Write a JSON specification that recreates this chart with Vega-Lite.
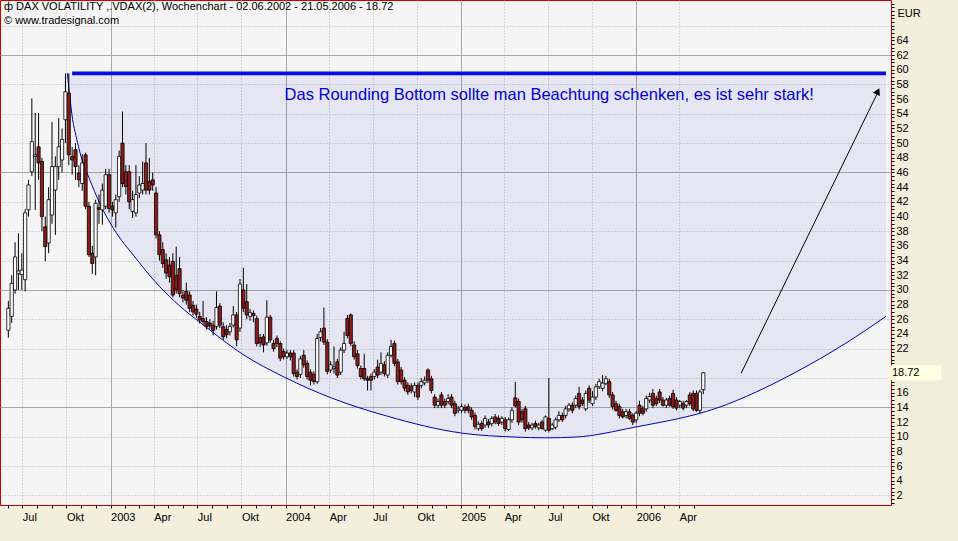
{
"$schema": "https://vega.github.io/schema/vega-lite/v6.json",
"width": 891, "height": 505,
"autosize": {"type": "none"},
"padding": {"left": 0, "top": 0, "right": 67, "bottom": 36},
"background": "#F3EFDC",
"config": {
 "view": {"fill": "#F5F5F5", "stroke": "#CC0000", "strokeWidth": 1},
 "axis": {"title": null, "domain": false, "grid": false, "labelFont": "Liberation Sans", "labelFontSize": 11, "labelColor": "#000000", "tickColor": "#000000"}
},
"title": {"text": "ф DAX VOLATILITY ,.VDAX(2), Wochenchart - 02.06.2002 - 21.05.2006 - 18.72", "subtitle": "© www.tradesignal.com", "anchor": "start", "frame": "group", "orient": "top", "offset": -28, "dx": 4, "font": "Liberation Sans", "fontSize": 11, "fontWeight": "normal", "color": "#000000", "subtitleFont": "Liberation Sans", "subtitleFontSize": 11, "subtitleColor": "#000000", "subtitlePadding": 3},
"datasets": {
 "candles": [
{"d":"2002-06-02","o":24.5,"h":28.5,"l":23.5,"c":27.5},
{"d":"2002-06-09","o":26.4,"h":32,"l":25.5,"c":30.9},
{"d":"2002-06-16","o":30,"h":36.5,"l":29.5,"c":34.5},
{"d":"2002-06-23","o":32.2,"h":37.7,"l":30,"c":32.6},
{"d":"2002-06-30","o":32.1,"h":35,"l":30,"c":32.7},
{"d":"2002-07-07","o":31.4,"h":41,"l":29.8,"c":40.5},
{"d":"2002-07-14","o":40.9,"h":45,"l":40,"c":44.3},
{"d":"2002-07-21","o":46.1,"h":56.1,"l":45.5,"c":50.2},
{"d":"2002-07-28","o":48.2,"h":54.1,"l":40.9,"c":48.4},
{"d":"2002-08-04","o":49.5,"h":54.1,"l":45,"c":47.3},
{"d":"2002-08-11","o":47.5,"h":48,"l":38,"c":40},
{"d":"2002-08-18","o":38.6,"h":40,"l":33.9,"c":35.9},
{"d":"2002-08-25","o":36.4,"h":44,"l":35,"c":42.3},
{"d":"2002-09-01","o":40.2,"h":52.9,"l":39,"c":46.8},
{"d":"2002-09-08","o":43.6,"h":48.2,"l":37.5,"c":46.8},
{"d":"2002-09-15","o":46.8,"h":53.4,"l":45,"c":49.5},
{"d":"2002-09-22","o":47.7,"h":52,"l":46,"c":50.5},
{"d":"2002-09-29","o":53.2,"h":59.5,"l":50,"c":57},
{"d":"2002-10-06","o":56.8,"h":59.5,"l":47,"c":48.4},
{"d":"2002-10-13","o":48.2,"h":49.5,"l":45.7,"c":47.7},
{"d":"2002-10-20","o":49.1,"h":50,"l":45,"c":46.8},
{"d":"2002-10-27","o":45.9,"h":47,"l":44,"c":45},
{"d":"2002-11-03","o":44.5,"h":48.5,"l":43.5,"c":47.3},
{"d":"2002-11-10","o":48.4,"h":48.7,"l":41,"c":41.4},
{"d":"2002-11-17","o":41.4,"h":42,"l":34.5,"c":34.8},
{"d":"2002-11-24","o":35,"h":36,"l":32.2,"c":33.6},
{"d":"2002-12-01","o":34.5,"h":42.3,"l":32,"c":41.8},
{"d":"2002-12-08","o":41.2,"h":43,"l":39,"c":41},
{"d":"2002-12-15","o":40.9,"h":44.5,"l":38.9,"c":43.6},
{"d":"2002-12-22","o":41.4,"h":46.5,"l":41,"c":45.7},
{"d":"2002-12-29","o":45.7,"h":46.5,"l":40.5,"c":41.1},
{"d":"2003-01-05","o":41.4,"h":42,"l":40,"c":40.9},
{"d":"2003-01-12","o":40.5,"h":43,"l":38.5,"c":42.3},
{"d":"2003-01-19","o":42.7,"h":49,"l":42,"c":48.2},
{"d":"2003-01-26","o":50,"h":54.3,"l":44,"c":44.5},
{"d":"2003-02-02","o":46.1,"h":47,"l":43,"c":44.1},
{"d":"2003-02-09","o":46.1,"h":47,"l":41,"c":42},
{"d":"2003-02-16","o":40.7,"h":43.5,"l":39.8,"c":42.3},
{"d":"2003-02-23","o":40.5,"h":47,"l":40,"c":43},
{"d":"2003-03-02","o":43.2,"h":45.5,"l":42.5,"c":44.3},
{"d":"2003-03-09","o":43.6,"h":47.5,"l":43,"c":44.5},
{"d":"2003-03-16","o":47.3,"h":50,"l":43,"c":43.6},
{"d":"2003-03-23","o":44.8,"h":48,"l":43,"c":43.6},
{"d":"2003-03-30","o":45,"h":46,"l":43.5,"c":44.3},
{"d":"2003-04-06","o":43.2,"h":44,"l":37,"c":37.5},
{"d":"2003-04-13","o":37.5,"h":38,"l":34,"c":34.8},
{"d":"2003-04-20","o":35.5,"h":36.5,"l":33,"c":33.6},
{"d":"2003-04-27","o":34.1,"h":35,"l":31.5,"c":32.3},
{"d":"2003-05-04","o":33.4,"h":34.5,"l":31,"c":31.8},
{"d":"2003-05-11","o":33.9,"h":35,"l":29,"c":29.3},
{"d":"2003-05-18","o":32,"h":35.9,"l":29.5,"c":30},
{"d":"2003-05-25","o":32.9,"h":34.5,"l":29,"c":29.5},
{"d":"2003-06-01","o":29.3,"h":30,"l":28.3,"c":28.9},
{"d":"2003-06-08","o":29.8,"h":31,"l":28,"c":28.6},
{"d":"2003-06-15","o":29.3,"h":29.8,"l":27,"c":27.5},
{"d":"2003-06-22","o":27.9,"h":28.5,"l":26.5,"c":27},
{"d":"2003-06-29","o":27.4,"h":28,"l":26.2,"c":26.7},
{"d":"2003-07-06","o":26.4,"h":27,"l":25.4,"c":25.9},
{"d":"2003-07-13","o":26.1,"h":28.5,"l":25.2,"c":25.7},
{"d":"2003-07-20","o":25.7,"h":26.3,"l":24.6,"c":25},
{"d":"2003-07-27","o":25.5,"h":26,"l":24.7,"c":25.1},
{"d":"2003-08-03","o":25.2,"h":25.8,"l":23.8,"c":24.5},
{"d":"2003-08-10","o":25,"h":29.8,"l":24.6,"c":27.6},
{"d":"2003-08-17","o":27.8,"h":28.2,"l":24.8,"c":25.2},
{"d":"2003-08-24","o":25,"h":25.6,"l":23.2,"c":23.6},
{"d":"2003-08-31","o":24.6,"h":25.2,"l":23.4,"c":23.9},
{"d":"2003-09-07","o":24.3,"h":25.5,"l":23.8,"c":25},
{"d":"2003-09-14","o":25.2,"h":27.8,"l":24.9,"c":26.6},
{"d":"2003-09-21","o":26.6,"h":27,"l":22.3,"c":23.2},
{"d":"2003-09-28","o":24.8,"h":31.5,"l":24.3,"c":30.8},
{"d":"2003-10-05","o":30,"h":33,"l":27,"c":27.5},
{"d":"2003-10-12","o":28.4,"h":30.8,"l":26,"c":26.6},
{"d":"2003-10-19","o":26.4,"h":27.4,"l":25.8,"c":26.9},
{"d":"2003-10-26","o":26.8,"h":27.2,"l":25.6,"c":26.5},
{"d":"2003-11-02","o":26.1,"h":26.5,"l":22.3,"c":22.7},
{"d":"2003-11-09","o":23.5,"h":24,"l":22.2,"c":22.8},
{"d":"2003-11-16","o":23.6,"h":24,"l":21.5,"c":22.5},
{"d":"2003-11-23","o":22.8,"h":28.6,"l":22.4,"c":26.3},
{"d":"2003-11-30","o":26.3,"h":26.6,"l":22.8,"c":23.2},
{"d":"2003-12-07","o":22.7,"h":23.2,"l":21.6,"c":22},
{"d":"2003-12-14","o":23.4,"h":23.8,"l":22.2,"c":22.7},
{"d":"2003-12-21","o":22.7,"h":23,"l":20.3,"c":20.7},
{"d":"2003-12-28","o":21.6,"h":22,"l":20.5,"c":20.9},
{"d":"2004-01-04","o":20.9,"h":21.8,"l":20.6,"c":21.4},
{"d":"2004-01-11","o":21.4,"h":21.8,"l":20.4,"c":20.9},
{"d":"2004-01-18","o":21.4,"h":21.8,"l":18.2,"c":18.6},
{"d":"2004-01-25","o":18.8,"h":19.2,"l":17.8,"c":18.2},
{"d":"2004-02-01","o":18.5,"h":21,"l":18,"c":20.6},
{"d":"2004-02-08","o":21.1,"h":21.8,"l":19.4,"c":19.8},
{"d":"2004-02-15","o":20,"h":20.4,"l":17.8,"c":18.2},
{"d":"2004-02-22","o":18.8,"h":19.2,"l":17,"c":17.7},
{"d":"2004-02-29","o":18.5,"h":18.9,"l":17.1,"c":17.5},
{"d":"2004-03-07","o":17.5,"h":24,"l":17.2,"c":23.4},
{"d":"2004-03-14","o":23.5,"h":24.8,"l":23,"c":24.3},
{"d":"2004-03-21","o":24.8,"h":27.6,"l":22.5,"c":22.9},
{"d":"2004-03-28","o":22.9,"h":23.3,"l":18.5,"c":18.9},
{"d":"2004-04-04","o":19.1,"h":20.3,"l":18.7,"c":19.8},
{"d":"2004-04-11","o":19.3,"h":22.3,"l":18.6,"c":19.5},
{"d":"2004-04-18","o":20.2,"h":20.6,"l":18,"c":18.4},
{"d":"2004-04-25","o":18.8,"h":22.2,"l":18.4,"c":21.8},
{"d":"2004-05-02","o":21.8,"h":24.3,"l":21.4,"c":22.7},
{"d":"2004-05-09","o":26.1,"h":26.6,"l":23.4,"c":23.8},
{"d":"2004-05-16","o":26.6,"h":26.8,"l":22.3,"c":22.7},
{"d":"2004-05-23","o":22.5,"h":23,"l":20.5,"c":20.9},
{"d":"2004-05-30","o":21.3,"h":21.8,"l":19.3,"c":19.7},
{"d":"2004-06-06","o":19.3,"h":19.7,"l":17.8,"c":18.2},
{"d":"2004-06-13","o":19.3,"h":21.3,"l":17.6,"c":17.9},
{"d":"2004-06-20","o":17.9,"h":18.3,"l":16.3,"c":17.7},
{"d":"2004-06-27","o":18.2,"h":18.6,"l":16.3,"c":17.7},
{"d":"2004-07-04","o":18.2,"h":19.2,"l":17.8,"c":18.8},
{"d":"2004-07-11","o":19.5,"h":20.5,"l":18,"c":18.4},
{"d":"2004-07-18","o":18.8,"h":21.5,"l":18.4,"c":20},
{"d":"2004-07-25","o":19.8,"h":20.3,"l":18.2,"c":18.6},
{"d":"2004-08-01","o":18.4,"h":21.5,"l":18,"c":21.1},
{"d":"2004-08-08","o":21.1,"h":23.2,"l":20.8,"c":22.3},
{"d":"2004-08-15","o":22.7,"h":23.1,"l":19.6,"c":20},
{"d":"2004-08-22","o":20.2,"h":20.6,"l":17.1,"c":17.5},
{"d":"2004-08-29","o":19.1,"h":19.5,"l":17.1,"c":17.5},
{"d":"2004-09-05","o":17.7,"h":18.1,"l":16.2,"c":16.6},
{"d":"2004-09-12","o":17,"h":17.4,"l":15.7,"c":16.1},
{"d":"2004-09-19","o":16.9,"h":17.3,"l":15.9,"c":16.3},
{"d":"2004-09-26","o":16.1,"h":17.4,"l":15.4,"c":17},
{"d":"2004-10-03","o":17,"h":17.4,"l":15,"c":15.4},
{"d":"2004-10-10","o":17,"h":18,"l":16.6,"c":17.5},
{"d":"2004-10-17","o":17.35,"h":18.2,"l":17,"c":17.7},
{"d":"2004-10-24","o":19.1,"h":19.3,"l":17.3,"c":17.7},
{"d":"2004-10-31","o":17.9,"h":18.3,"l":15.9,"c":16.3},
{"d":"2004-11-07","o":15.4,"h":15.8,"l":13.9,"c":14.3},
{"d":"2004-11-14","o":14.3,"h":15.2,"l":13.9,"c":14.8},
{"d":"2004-11-21","o":15.7,"h":16.1,"l":13.9,"c":14.3},
{"d":"2004-11-28","o":14.8,"h":15.2,"l":13.9,"c":14.3},
{"d":"2004-12-05","o":14.8,"h":15.8,"l":14.4,"c":15.2},
{"d":"2004-12-12","o":15.4,"h":15.8,"l":13.9,"c":14.3},
{"d":"2004-12-19","o":14.5,"h":14.9,"l":12.8,"c":13.2},
{"d":"2004-12-26","o":13.6,"h":14.2,"l":13.2,"c":13.8},
{"d":"2005-01-02","o":13.6,"h":14.5,"l":13.2,"c":14.1},
{"d":"2005-01-09","o":14,"h":14.4,"l":13.2,"c":13.6},
{"d":"2005-01-16","o":14.1,"h":14.5,"l":13.2,"c":13.6},
{"d":"2005-01-23","o":13.6,"h":14,"l":12.3,"c":12.7},
{"d":"2005-01-30","o":12.9,"h":13.3,"l":11,"c":11.4},
{"d":"2005-02-06","o":11.1,"h":12.1,"l":10.8,"c":11.7},
{"d":"2005-02-13","o":11.8,"h":12.2,"l":10.8,"c":11.1},
{"d":"2005-02-20","o":11.6,"h":12.9,"l":11.2,"c":12.5},
{"d":"2005-02-27","o":12,"h":12.4,"l":11.2,"c":11.6},
{"d":"2005-03-06","o":11.8,"h":12.8,"l":11.4,"c":12.5},
{"d":"2005-03-13","o":12.7,"h":13.1,"l":11.7,"c":12},
{"d":"2005-03-20","o":12.5,"h":12.9,"l":11.5,"c":11.8},
{"d":"2005-03-27","o":12,"h":12.8,"l":11.6,"c":12.5},
{"d":"2005-04-03","o":12.3,"h":12.7,"l":10.7,"c":11.1},
{"d":"2005-04-10","o":11,"h":12.6,"l":10.8,"c":12.3},
{"d":"2005-04-17","o":12.3,"h":14,"l":11.9,"c":13.6},
{"d":"2005-04-24","o":15.3,"h":17.5,"l":14,"c":14.2},
{"d":"2005-05-01","o":14.8,"h":15.2,"l":11.6,"c":12},
{"d":"2005-05-08","o":13.4,"h":13.8,"l":11.9,"c":12.3},
{"d":"2005-05-15","o":13.8,"h":14.2,"l":10.7,"c":11.1},
{"d":"2005-05-22","o":11.6,"h":12,"l":10.9,"c":11.2},
{"d":"2005-05-29","o":11.2,"h":11.9,"l":10.9,"c":11.6},
{"d":"2005-06-05","o":11.8,"h":12.2,"l":11.1,"c":11.4},
{"d":"2005-06-12","o":11.2,"h":11.9,"l":10.9,"c":11.6},
{"d":"2005-06-19","o":12,"h":12.3,"l":11,"c":11.1},
{"d":"2005-06-26","o":10.9,"h":12.9,"l":10.7,"c":12.7},
{"d":"2005-07-03","o":12.5,"h":18,"l":10.6,"c":10.9},
{"d":"2005-07-10","o":11.1,"h":11.9,"l":10.9,"c":11.6},
{"d":"2005-07-17","o":11.3,"h":12.6,"l":11,"c":12.3},
{"d":"2005-07-24","o":12.3,"h":13.5,"l":12,"c":12.9},
{"d":"2005-07-31","o":12.9,"h":13.3,"l":12,"c":12.3},
{"d":"2005-08-07","o":12.9,"h":14.2,"l":12.5,"c":13.8},
{"d":"2005-08-14","o":13.8,"h":14.6,"l":13.4,"c":14.3},
{"d":"2005-08-21","o":14.3,"h":14.7,"l":13.2,"c":13.6},
{"d":"2005-08-28","o":14.3,"h":15.6,"l":13.9,"c":15.2},
{"d":"2005-09-04","o":15.9,"h":16.8,"l":13.7,"c":14.1},
{"d":"2005-09-11","o":15,"h":15.4,"l":14.2,"c":14.5},
{"d":"2005-09-18","o":13.8,"h":16.3,"l":13.5,"c":15.9},
{"d":"2005-09-25","o":16.6,"h":17,"l":14.6,"c":15},
{"d":"2005-10-02","o":14.5,"h":16.2,"l":14.2,"c":15.4},
{"d":"2005-10-09","o":15.4,"h":17.2,"l":15,"c":16.8},
{"d":"2005-10-16","o":16.8,"h":17.9,"l":16.5,"c":17.5},
{"d":"2005-10-23","o":16.6,"h":18.4,"l":16.2,"c":17.3},
{"d":"2005-10-30","o":17.3,"h":18.3,"l":17,"c":17.9},
{"d":"2005-11-06","o":17.5,"h":17.9,"l":15.3,"c":15.7},
{"d":"2005-11-13","o":15.7,"h":16.1,"l":13.7,"c":14.1},
{"d":"2005-11-20","o":14.5,"h":14.9,"l":13.4,"c":13.6},
{"d":"2005-11-27","o":14.1,"h":14.5,"l":12.5,"c":12.9},
{"d":"2005-12-04","o":13.4,"h":13.8,"l":12.5,"c":12.7},
{"d":"2005-12-11","o":12.9,"h":13.8,"l":12.5,"c":13.4},
{"d":"2005-12-18","o":13.4,"h":13.8,"l":12.3,"c":12.5},
{"d":"2005-12-25","o":12.9,"h":13.2,"l":11.6,"c":12},
{"d":"2006-01-01","o":12.3,"h":13.5,"l":11.9,"c":13.2},
{"d":"2006-01-08","o":14.3,"h":14.9,"l":12.8,"c":13.2},
{"d":"2006-01-15","o":13.8,"h":14.2,"l":12.9,"c":13.2},
{"d":"2006-01-22","o":13.8,"h":15.6,"l":13.4,"c":15.2},
{"d":"2006-01-29","o":15,"h":16,"l":14.6,"c":15.5},
{"d":"2006-02-05","o":15.9,"h":16.5,"l":13.9,"c":14.3},
{"d":"2006-02-12","o":15.2,"h":15.6,"l":14.2,"c":14.5},
{"d":"2006-02-19","o":16.1,"h":16.5,"l":14.6,"c":15},
{"d":"2006-02-26","o":15,"h":15.4,"l":14.1,"c":14.3},
{"d":"2006-03-05","o":14.3,"h":15.3,"l":13.9,"c":15},
{"d":"2006-03-12","o":15.2,"h":15.6,"l":14.1,"c":14.3},
{"d":"2006-03-19","o":15.9,"h":16.4,"l":13.8,"c":14.1},
{"d":"2006-03-26","o":15,"h":15.4,"l":13.6,"c":13.9},
{"d":"2006-04-02","o":14.3,"h":15,"l":13.9,"c":14.8},
{"d":"2006-04-09","o":14.5,"h":14.9,"l":13.6,"c":13.9},
{"d":"2006-04-16","o":14.3,"h":15,"l":13.9,"c":14.8},
{"d":"2006-04-23","o":15.7,"h":16.1,"l":14.2,"c":14.5},
{"d":"2006-04-30","o":15.9,"h":16.3,"l":13.5,"c":13.8},
{"d":"2006-05-07","o":15.9,"h":16.3,"l":13.4,"c":13.6},
{"d":"2006-05-14","o":13.6,"h":16.4,"l":13.2,"c":16.1},
{"d":"2006-05-21","o":16.4,"h":18.8,"l":15.8,"c":18.72}
 ],
 "curve": [
{"d":"2002-10-03","v":59.5},
{"d":"2002-10-07","v":57.0},
{"d":"2002-10-14","v":53.2},
{"d":"2002-10-21","v":51.0},
{"d":"2002-10-31","v":48.3},
{"d":"2002-11-17","v":45.3},
{"d":"2002-12-11","v":41.6},
{"d":"2003-01-07","v":38.4},
{"d":"2003-02-23","v":34.3},
{"d":"2003-03-30","v":31.5},
{"d":"2003-05-04","v":29.1},
{"d":"2003-07-26","v":24.6},
{"d":"2003-10-02","v":21.3},
{"d":"2003-12-30","v":18.1},
{"d":"2004-04-05","v":15.3},
{"d":"2004-07-31","v":12.8},
{"d":"2005-01-02","v":10.5},
{"d":"2005-04-25","v":9.95},
{"d":"2005-06-26","v":9.85},
{"d":"2005-08-27","v":9.95},
{"d":"2005-12-29","v":11.3},
{"d":"2006-06-18","v":13.9},
{"d":"2006-11-30","v":18.8},
{"d":"2007-03-13","v":22.7},
{"d":"2007-06-06","v":26.4}
 ],
 "marker": [{"d1": "2007-06-10", "d2": "2007-09-29", "v1": 17.7, "v2": 19.75, "v": 18.72, "t": "18.72"}]
},
"layer": [
 {
  "data": {"name": "curve"},
  "mark": {"type": "area", "interpolate": "monotone", "fill": "#0000E0", "fillOpacity": 0.06, "clip": true},
  "encoding": {
   "x": {"field": "d", "type": "temporal",
    "scale": {"type": "utc", "domain": [{"year": 2002, "month": 5, "date": 26, "utc": true}, {"year": 2007, "month": 6, "date": 6, "utc": true}]},
    "axis": {"orient": "bottom", "values": [
      {"year": 2002, "month": 6, "date": 1, "utc": true}, {"year": 2002, "month": 7, "date": 1, "utc": true}, {"year": 2002, "month": 8, "date": 1, "utc": true}, {"year": 2002, "month": 9, "date": 1, "utc": true}, {"year": 2002, "month": 10, "date": 1, "utc": true}, {"year": 2002, "month": 11, "date": 1, "utc": true}, {"year": 2002, "month": 12, "date": 1, "utc": true},
      {"year": 2003, "month": 1, "date": 1, "utc": true}, {"year": 2003, "month": 2, "date": 1, "utc": true}, {"year": 2003, "month": 3, "date": 1, "utc": true}, {"year": 2003, "month": 4, "date": 1, "utc": true}, {"year": 2003, "month": 5, "date": 1, "utc": true}, {"year": 2003, "month": 6, "date": 1, "utc": true}, {"year": 2003, "month": 7, "date": 1, "utc": true}, {"year": 2003, "month": 8, "date": 1, "utc": true}, {"year": 2003, "month": 9, "date": 1, "utc": true}, {"year": 2003, "month": 10, "date": 1, "utc": true}, {"year": 2003, "month": 11, "date": 1, "utc": true}, {"year": 2003, "month": 12, "date": 1, "utc": true},
      {"year": 2004, "month": 1, "date": 1, "utc": true}, {"year": 2004, "month": 2, "date": 1, "utc": true}, {"year": 2004, "month": 3, "date": 1, "utc": true}, {"year": 2004, "month": 4, "date": 1, "utc": true}, {"year": 2004, "month": 5, "date": 1, "utc": true}, {"year": 2004, "month": 6, "date": 1, "utc": true}, {"year": 2004, "month": 7, "date": 1, "utc": true}, {"year": 2004, "month": 8, "date": 1, "utc": true}, {"year": 2004, "month": 9, "date": 1, "utc": true}, {"year": 2004, "month": 10, "date": 1, "utc": true}, {"year": 2004, "month": 11, "date": 1, "utc": true}, {"year": 2004, "month": 12, "date": 1, "utc": true},
      {"year": 2005, "month": 1, "date": 1, "utc": true}, {"year": 2005, "month": 2, "date": 1, "utc": true}, {"year": 2005, "month": 3, "date": 1, "utc": true}, {"year": 2005, "month": 4, "date": 1, "utc": true}, {"year": 2005, "month": 5, "date": 1, "utc": true}, {"year": 2005, "month": 6, "date": 1, "utc": true}, {"year": 2005, "month": 7, "date": 1, "utc": true}, {"year": 2005, "month": 8, "date": 1, "utc": true}, {"year": 2005, "month": 9, "date": 1, "utc": true}, {"year": 2005, "month": 10, "date": 1, "utc": true}, {"year": 2005, "month": 11, "date": 1, "utc": true}, {"year": 2005, "month": 12, "date": 1, "utc": true},
      {"year": 2006, "month": 1, "date": 1, "utc": true}, {"year": 2006, "month": 2, "date": 1, "utc": true}, {"year": 2006, "month": 3, "date": 1, "utc": true}, {"year": 2006, "month": 4, "date": 1, "utc": true}, {"year": 2006, "month": 5, "date": 1, "utc": true}],
     "labelExpr": "utcmonth(datum.value) == 0 ? '' + utcyear(datum.value) : (utcmonth(datum.value) == 3 ? 'Apr' : (utcmonth(datum.value) == 6 ? 'Jul' : (utcmonth(datum.value) == 9 ? 'Okt' : '')))",
     "labelAlign": "left", "labelBaseline": "top", "labelPadding": 3, "labelOverlap": false, "labelBound": false, "labelFlush": false,
     "tickSize": 3,
     "grid": true,
     "gridColor": {"condition": {"test": "utcmonth(datum.value) == 0", "value": "#A8A8A8"}, "value": "#B8B8B8"},
     "gridDash": {"condition": {"test": "utcmonth(datum.value) == 0", "value": []}, "value": [1, 2]},
     "gridOpacity": {"condition": {"test": "utcmonth(datum.value) % 3 != 0", "value": 0}, "value": 1}}},
   "y": {"field": "v", "type": "quantitative",
    "scale": {"domain": [0.7, 69.5], "nice": false, "zero": false},
    "axis": {"orient": "right", "values": [1,1.5,2,2.5,3,3.5,4,4.5,5,5.5,6,6.5,7,7.5,8,8.5,9,9.5,10,10.5,11,11.5,12,12.5,13,13.5,14,14.5,15,15.5,16,16.5,17,17.5,18,18.5,19,19.5,20,20.5,21,21.5,22,22.5,23,23.5,24,24.5,25,25.5,26,26.5,27,27.5,28,28.5,29,29.5,30,30.5,31,31.5,32,32.5,33,33.5,34,34.5,35,35.5,36,36.5,37,37.5,38,38.5,39,39.5,40,40.5,41,41.5,42,42.5,43,43.5,44,44.5,45,45.5,46,46.5,47,47.5,48,48.5,49,49.5,50,50.5,51,51.5,52,52.5,53,53.5,54,54.5,55,55.5,56,56.5,57,57.5,58,58.5,59,59.5,60,60.5,61,61.5,62,62.5,63,63.5,64,64.5,65,65.5,66,66.5,67,67.5,68,68.5,69],
     "labelExpr": "(datum.value % 2 == 0 && datum.value >= 2 && datum.value <= 64 && datum.value != 18 && datum.value != 20) ? toString(datum.value) : ''",
     "labelPadding": 2, "labelBaseline": "middle", "labelOverlap": false, "labelBound": false,
     "tickSize": 3,
     "grid": true,
     "gridColor": {"condition": {"test": "(datum.value - 14) % 16 == 0", "value": "#A8A8A8"}, "value": "#B8B8B8"},
     "gridDash": {"condition": {"test": "(datum.value - 14) % 16 == 0", "value": []}, "value": [1, 2]},
     "gridOpacity": {"condition": {"test": "(datum.value - 2) % 4 != 0", "value": 0}, "value": 1},
     "title": "EUR", "titleAngle": 0, "titleAlign": "left", "titleBaseline": "alphabetic", "titleX": 6, "titleY": 16, "titleFont": "Liberation Sans", "titleFontSize": 11, "titleFontWeight": "normal", "titleColor": "#000000"}},
   "y2": {"datum": 59.5}
  }
 },
 {
  "data": {"name": "curve"},
  "mark": {"type": "line", "interpolate": "monotone", "color": "#0000B4", "strokeWidth": 1, "clip": true},
  "encoding": {
   "x": {"field": "d", "type": "temporal", "axis": null},
   "y": {"field": "v", "type": "quantitative", "axis": null}
  }
 },
 {
  "data": {"values": [{"d1": "2002-10-13", "d2": "2007-06-06", "v": 59.5}]},
  "mark": {"type": "rule", "color": "#0A0AE6", "strokeWidth": 3.6},
  "encoding": {
   "x": {"field": "d1", "type": "temporal", "axis": null},
   "x2": {"field": "d2"},
   "y": {"field": "v", "type": "quantitative", "axis": null}
  }
 },
 {
  "data": {"name": "candles"},
  "mark": {"type": "rule", "color": "#000000", "strokeWidth": 1},
  "encoding": {
   "x": {"field": "d", "type": "temporal", "axis": null},
   "y": {"field": "l", "type": "quantitative", "axis": null},
   "y2": {"field": "h"}
  }
 },
 {
  "data": {"name": "candles"},
  "mark": {"type": "bar", "width": 3.2, "stroke": "#000000", "strokeWidth": 0.8},
  "encoding": {
   "x": {"field": "d", "type": "temporal", "axis": null},
   "y": {"field": "o", "type": "quantitative", "axis": null},
   "y2": {"field": "c"},
   "fill": {"condition": {"test": "datum.c < datum.o", "value": "#8E1B1B"}, "value": "#FFFFFF"}
  }
 },
 {
  "data": {"values": [{"d": "2003-12-30", "v": 56.6, "t": "Das Rounding Bottom sollte man Beachtung schenken, es ist sehr stark!"}]},
  "mark": {"type": "text", "align": "left", "baseline": "middle", "font": "Liberation Sans", "fontSize": 16.5, "color": "#0000DD"},
  "encoding": {
   "x": {"field": "d", "type": "temporal", "axis": null},
   "y": {"field": "v", "type": "quantitative", "axis": null},
   "text": {"field": "t"}
  }
 },
 {
  "data": {"values": [{"d1": "2006-08-08", "v1": 18.66, "d2": "2007-05-22", "v2": 57.2}]},
  "mark": {"type": "rule", "color": "#000000", "strokeWidth": 1},
  "encoding": {
   "x": {"field": "d1", "type": "temporal", "axis": null},
   "y": {"field": "v1", "type": "quantitative", "axis": null},
   "x2": {"field": "d2"},
   "y2": {"field": "v2"}
  }
 },
 {
  "data": {"values": [{"d": "2007-05-20", "v": 57.05}]},
  "mark": {"type": "point", "shape": "triangle-up", "filled": true, "color": "#000000", "size": 60, "angle": 26, "opacity": 1},
  "encoding": {
   "x": {"field": "d", "type": "temporal", "axis": null},
   "y": {"field": "v", "type": "quantitative", "axis": null}
  }
 },
 {
  "data": {"name": "marker"},
  "mark": {"type": "rect", "fill": "#FFFFE1", "clip": false},
  "encoding": {
   "x": {"field": "d1", "type": "temporal", "axis": null},
   "x2": {"field": "d2"},
   "y": {"field": "v1", "type": "quantitative", "axis": null},
   "y2": {"field": "v2"}
  }
 },
 {
  "data": {"name": "marker"},
  "mark": {"type": "text", "align": "left", "baseline": "middle", "dx": 4, "font": "Liberation Sans", "fontSize": 11, "color": "#000000", "clip": false},
  "encoding": {
   "x": {"field": "d1", "type": "temporal", "axis": null},
   "y": {"field": "v", "type": "quantitative", "axis": null},
   "text": {"field": "t"}
  }
 }
],
"resolve": {"axis": {"x": "independent", "y": "independent"}}
}
